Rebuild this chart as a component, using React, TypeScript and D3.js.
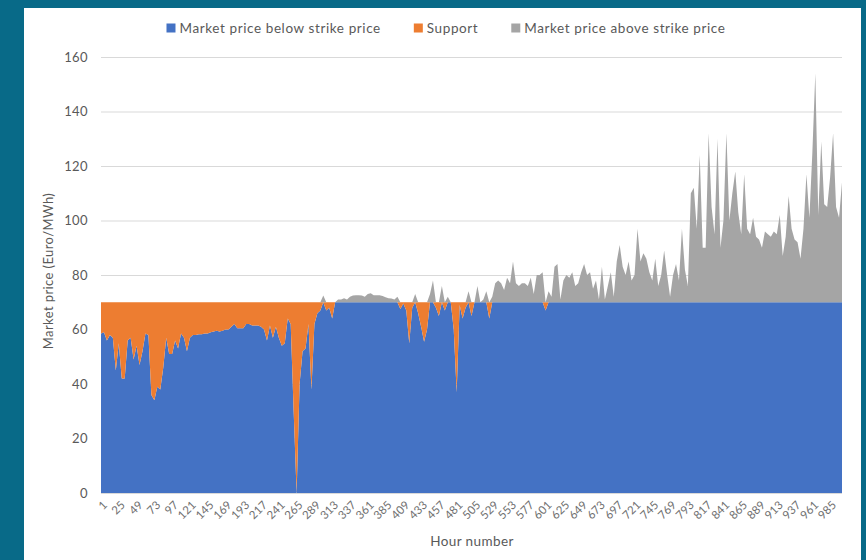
import React, { useEffect, useRef } from 'react';
import * as d3 from 'd3';

const strikePrice = 70;
const firstHour = 1;
const hourStep = 4;

const pricesA = [
    58.5, 59, 56, 58, 57, 45, 55, 42, 42, 56, 57, 49, 54, 47, 52, 58.5, 58, 36, 34, 39, 38, 46,
    57, 51, 51, 56, 53, 58.5, 57, 52, 57, 58, 58, 58.3, 58.3, 58.5, 58.5, 59, 59.3, 59.5, 59.3, 59.5, 60
];
const pricesB = [
    60, 61, 62, 60.5, 60.5, 60.5, 62, 62, 61.5, 61.5, 61.5, 61, 60, 56, 61.5, 57, 61, 57, 54, 55, 64,
    62, 30, 0, 40, 52, 53, 62, 38, 62, 66, 67, 72.5, 67, 68, 64, 70, 71, 71, 71.5, 71, 72
];
const pricesC = [
    72.5, 72.6, 72.6, 72.5, 72, 73, 73.3, 72.6, 72.6, 72.6, 72.3, 71.8, 71.5, 71.4, 71, 72, 67.5,
    69.5, 67, 55, 68, 73, 66, 61, 55.5, 60, 73, 78, 68, 65, 76, 67, 72, 70, 60, 37, 69, 64, 68, 74,
    65, 70, 76, 70, 71, 74, 64, 72, 77, 78
];
const pricesD = [
    77, 74.5, 79, 77, 85, 77, 76, 77, 77, 76, 79, 73, 80, 80, 81, 67, 74, 72, 83, 84, 71, 78, 80,
    79, 81, 76, 77, 81, 84, 80, 81, 75, 78, 71, 83, 71, 76, 81, 72, 85, 91, 83, 80, 85, 78, 80, 97
];
const pricesE = [
    85, 88, 86, 81, 78, 86, 76, 80, 89, 80, 72, 80, 84, 78, 97, 82, 76, 110, 112, 97, 124, 90, 90,
    132, 105, 95, 130, 90, 100, 132, 100, 110, 118, 103, 95, 117, 97, 95, 101, 94, 93
];
const pricesF = [
    90, 96, 95, 94, 96, 95, 102, 87, 94, 109, 97, 93, 92, 86, 97, 117, 101, 125, 154, 102, 129,
    106, 105, 116, 132, 105, 101, 114
];
const prices = [...pricesA, ...pricesB, ...pricesC, ...pricesD, ...pricesE, ...pricesF];

const yTicks = [0, 20, 40, 60, 80, 100, 120, 140, 160];
const xTickLabels = [
    1, 25, 49, 73, 97, 121, 145, 169, 193, 217, 241, 265, 289, 313, 337, 361, 385, 409, 433, 457,
    481, 505, 529, 553, 577, 601, 625, 649, 673, 697, 721, 745, 769, 793, 817, 841, 865, 889, 913,
    937, 961, 985
];
const seriesNames = ['Market price below strike price', 'Support', 'Market price above strike price'];
const seriesColors = ['#4472C4', '#ED7D31', '#A5A5A5'];

const App = () => {
    const ref = useRef<SVGSVGElement>(null);

    useEffect(() => {
        const width = 866;
        const height = 560;
        const left = 101, right = 842, top = 57, bottom = 493;
        const font = 'Lato, "Open Sans", sans-serif';
        const textColor = '#595959';

        const svg = d3.select(ref.current);
        svg.selectAll('*').remove();

        const rows = prices.map((p, i) => ({ hour: firstHour + i * hourStep, price: p }));

        const x = d3.scaleLinear()
            .domain([firstHour, rows[rows.length - 1].hour])
            .range([left, right]);
        const y = d3.scaleLinear().domain([0, 160]).range([bottom, top]);

        svg.append('rect').attr('width', width).attr('height', height).attr('fill', '#086A88');
        svg.append('rect').attr('x', 24).attr('y', 8).attr('width', 837).attr('height', height)
            .attr('fill', 'white');

        // gridlines
        svg.append('g')
            .selectAll('line')
            .data(yTicks)
            .join('line')
            .attr('x1', left)
            .attr('x2', right)
            .attr('y1', d => y(d) + 0.5)
            .attr('y2', d => y(d) + 0.5)
            .attr('stroke', '#d9d9d9')
            .attr('stroke-width', 1);

        const areaBelow = d3.area<any>()
            .x(d => x(d.hour))
            .y0(y(0))
            .y1(d => y(Math.min(d.price, strikePrice)));
        const areaSupport = d3.area<any>()
            .x(d => x(d.hour))
            .y0(d => y(Math.min(d.price, strikePrice)))
            .y1(y(strikePrice));
        const areaAbove = d3.area<any>()
            .x(d => x(d.hour))
            .y0(y(strikePrice))
            .y1(d => y(Math.max(d.price, strikePrice)));

        [areaBelow, areaSupport, areaAbove].forEach((a, i) => {
            svg.append('path').datum(rows).attr('d', a).attr('fill', seriesColors[i]);
        });

        // x axis line
        svg.append('line')
            .attr('x1', left).attr('x2', right)
            .attr('y1', bottom + 0.5).attr('y2', bottom + 0.5)
            .attr('stroke', '#d9d9d9');

        // y tick labels
        svg.append('g')
            .attr('text-anchor', 'end')
            .style('font', `13px ${font}`)
            .style('letter-spacing', '0.4px')
            .attr('fill', textColor)
            .selectAll('text')
            .data(yTicks)
            .join('text')
            .attr('x', 88)
            .attr('y', d => y(d))
            .attr('dy', '0.35em')
            .text(d => d);

        // x tick labels
        svg.append('g')
            .attr('text-anchor', 'end')
            .style('font', `11.5px ${font}`)
            .attr('fill', '#6f6f6f')
            .selectAll('text')
            .data(xTickLabels)
            .join('text')
            .attr('transform', d => `translate(${x(d) + 4},${bottom + 10}) rotate(-45)`)
            .attr('dy', '0.35em')
            .text(d => d);

        svg.append('text')
            .attr('x', 472)
            .attr('y', 546)
            .attr('text-anchor', 'middle')
            .style('font', `13.5px ${font}`)
            .style('letter-spacing', '0.4px')
            .attr('fill', textColor)
            .text('Hour number');

        svg.append('text')
            .attr('transform', `translate(53,${(top + bottom) / 2 - 4}) rotate(-90)`)
            .attr('text-anchor', 'middle')
            .style('font', `13px ${font}`)
            .style('letter-spacing', '0.4px')
            .attr('fill', textColor)
            .text('Market price (Euro/MWh)');

        // legend
        const legend = svg.append('g')
            .style('font', `13.5px ${font}`)
            .style('letter-spacing', '0.6px')
            .attr('fill', textColor);
        const items = legend.selectAll('g')
            .data(seriesNames)
            .join('g');
        items.append('rect')
            .attr('width', 9)
            .attr('height', 9)
            .attr('y', -4.5)
            .attr('fill', (d, i) => seriesColors[i]);
        items.append('text')
            .attr('x', 13)
            .attr('dy', '0.35em')
            .text(d => d);
        let offset = 0;
        const widths: number[] = [];
        items.each(function () {
            const t = d3.select(this).select('text').node() as SVGTextElement;
            widths.push(13 + t.getComputedTextLength());
        });
        const gap = 33;
        const total = d3.sum(widths) + gap * (widths.length - 1);
        const start = 446 - total / 2;
        items.attr('transform', (d, i) => {
            const pos = start + offset;
            offset += widths[i] + gap;
            return `translate(${pos},28)`;
        });
    });

    return (
        <svg ref={ref} width={866} height={560} style={{ position: 'absolute', left: 0, top: 0 }} />
    );
};

export default App;
